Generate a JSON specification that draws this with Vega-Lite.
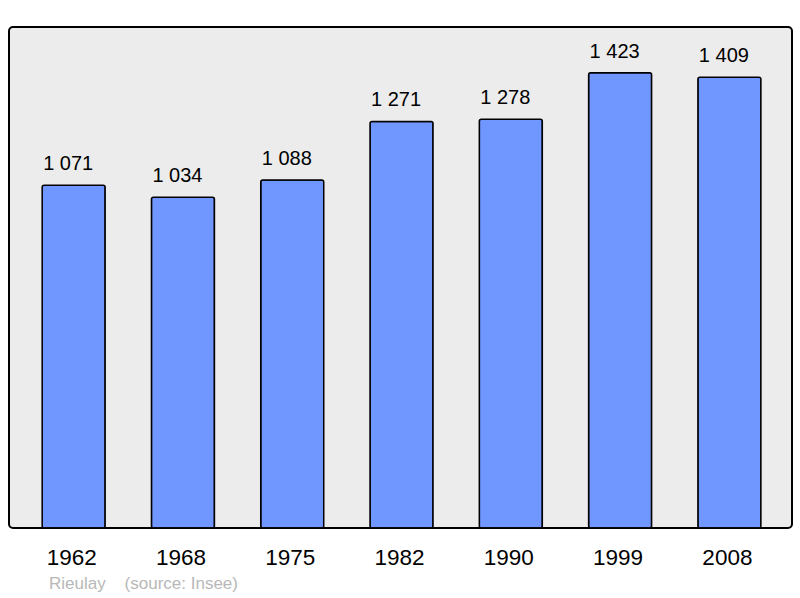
{
  "$schema": "https://vega.github.io/schema/vega-lite/v6.json",
  "width": 783,
  "height": 501,
  "autosize": {"type": "none"},
  "padding": {"left": 9, "top": 27, "right": 8, "bottom": 70},
  "background": "white",
  "data": {
    "values": [
      {"year": "1962", "pop": 1071},
      {"year": "1968", "pop": 1034},
      {"year": "1975", "pop": 1088},
      {"year": "1982", "pop": 1271},
      {"year": "1990", "pop": 1278},
      {"year": "1999", "pop": 1423},
      {"year": "2008", "pop": 1409}
    ]
  },
  "title": {
    "text": "Rieulay\u00a0\u00a0\u00a0 (source: Insee)",
    "orient": "bottom",
    "anchor": "start",
    "frame": "group",
    "dx": 40,
    "offset": 7,
    "fontSize": 17,
    "fontWeight": "normal",
    "color": "#b8b8b8",
    "font": "Liberation Sans"
  },
  "encoding": {
    "x": {
      "field": "year",
      "type": "ordinal",
      "scale": {"paddingInner": 0.4236, "paddingOuter": 0.294, "align": 0.516},
      "axis": {
        "title": null,
        "domain": false,
        "ticks": false,
        "tickSize": 0,
        "labelAngle": 0,
        "labelBaseline": "alphabetic",
        "labelPadding": 36,
        "labelOffset": -2,
        "labelFontSize": 22.5,
        "labelFont": "Liberation Sans",
        "labelColor": "black",
        "grid": false
      }
    },
    "y": {
      "field": "pop",
      "type": "quantitative",
      "scale": {"domain": [0, 1566]},
      "axis": null
    }
  },
  "layer": [
    {
      "mark": {"type": "bar", "fill": "#7096ff", "stroke": "black", "strokeWidth": 1.5, "cornerRadius": 2}
    },
    {
      "mark": {"type": "text", "baseline": "alphabetic", "dy": -15, "dx": -5.5, "fontSize": 20, "font": "Liberation Sans", "color": "black"},
      "encoding": {"text": {"field": "pop", "type": "quantitative", "format": ",d"}}
    }
  ],
  "config": {
    "view": {"fill": "#ececec", "stroke": "black", "strokeWidth": 2, "cornerRadius": 4},
    "locale": {"number": {"decimal": ",", "thousands": " ", "grouping": [3], "currency": ["", "€"]}}
  }
}
